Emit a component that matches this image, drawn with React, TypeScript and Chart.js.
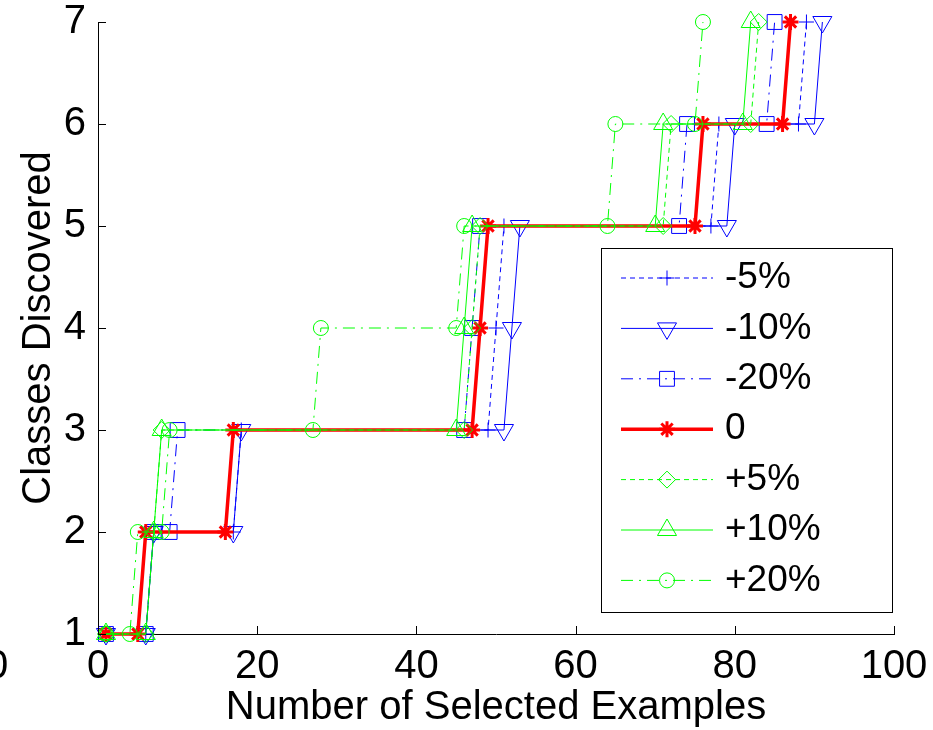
import React, { useEffect, useRef } from 'react';
import { Chart, registerables } from 'chart.js';
import { drawPoint } from 'chart.js/helpers';

Chart.register(...registerables);

const FONT = "'Liberation Sans', Arial, Helvetica, sans-serif";

// Number of selected examples at which each class count was reached, per threshold shift
const minus5X = [1, 6, 7, 17, 18, 49, 50, 51, 77, 78, 88, 89];
const minus5Y = [1, 1, 2, 2, 3, 3, 4, 5, 5, 6, 6, 7];

const minus10X = [1, 6, 7, 17, 18, 51, 52, 53, 79, 80, 90, 91];
const minus10Y = [1, 1, 2, 2, 3, 3, 4, 5, 5, 6, 6, 7];

const minus20X = [1, 6, 7, 9, 10, 46, 47, 48, 73, 74, 84, 85];
const minus20Y = [1, 1, 2, 2, 3, 3, 4, 5, 5, 6, 6, 7];

const zeroX = [1, 5, 6, 16, 17, 47, 48, 49, 75, 76, 86, 87];
const zeroY = [1, 1, 2, 2, 3, 3, 4, 5, 5, 6, 6, 7];

const plus5X = [1, 6, 7, 8, 46, 47, 48, 71, 72, 82, 83];
const plus5Y = [1, 1, 2, 3, 3, 4, 5, 5, 6, 6, 7];

const plus10X = [1, 6, 7, 8, 45, 46, 47, 70, 71, 81, 82];
const plus10Y = [1, 1, 2, 3, 3, 4, 5, 5, 6, 6, 7];

const plus20X = [1, 4, 5, 8, 9, 27, 28, 45, 46, 64, 65, 75, 76];
const plus20Y = [1, 1, 2, 2, 3, 3, 4, 4, 5, 5, 6, 6, 7];

const seriesLabels = ['-5%', '-10%', '-20%', '0', '+5%', '+10%', '+20%'];
const seriesX = [minus5X, minus10X, minus20X, zeroX, plus5X, plus10X, plus20X];
const seriesY = [minus5Y, minus10Y, minus20Y, zeroY, plus5Y, plus10Y, plus20Y];

const xTickValues = [0, 20, 40, 60, 80, 100];
const yTickValues = [1, 2, 3, 4, 5, 6, 7];

const xTitle = 'Number of Selected Examples';
const yTitle = 'Classes Discovered';

const BLUE = '#0000ff';
const GREEN = '#00ff00';
const RED = '#ff0000';
const DASHED = [5, 4];
const DASH_DOT = [12, 6, 2, 6];

// Line and marker look of each series, in the same order as the labels
const seriesStyles = [
  { color: BLUE, width: 1, dash: DASHED, marker: 'cross', radius: 7.5, rotation: 0, markerWidth: 1 },
  { color: BLUE, width: 1, dash: [], marker: 'triangle', radius: 11, rotation: 180, markerWidth: 1 },
  { color: BLUE, width: 1, dash: DASH_DOT, marker: 'rect', radius: 10.5, rotation: 0, markerWidth: 1 },
  { color: RED, width: 3.5, dash: [], marker: 'star', radius: 8, rotation: 0, markerWidth: 3 },
  { color: GREEN, width: 1, dash: DASHED, marker: 'rectRot', radius: 8.5, rotation: 0, markerWidth: 1 },
  { color: GREEN, width: 1, dash: [], marker: 'triangle', radius: 11, rotation: 0, markerWidth: 1 },
  { color: GREEN, width: 1, dash: DASH_DOT, marker: 'circle', radius: 7.5, rotation: 0, markerWidth: 1 },
];

// Legend drawn inside the plot area, lower right
const insetLegend = {
  id: 'insetLegend',
  afterDraw(chart: any) {
    const ctx = chart.ctx as CanvasRenderingContext2D;
    const box = { left: 601, top: 248, right: 892, bottom: 612 };
    ctx.save();
    ctx.fillStyle = '#ffffff';
    ctx.fillRect(box.left, box.top, box.right - box.left, box.bottom - box.top);
    ctx.strokeStyle = '#000000';
    ctx.lineWidth = 1;
    ctx.setLineDash([]);
    ctx.strokeRect(box.left + 0.5, box.top + 0.5, box.right - box.left, box.bottom - box.top);
    chart.data.datasets.forEach((ds: any, i: number) => {
      const y = box.top + 30 + i * 50.4;
      ctx.strokeStyle = ds.borderColor;
      ctx.lineWidth = ds.borderWidth;
      ctx.setLineDash(ds.borderDash || []);
      ctx.beginPath();
      ctx.moveTo(621, y);
      ctx.lineTo(713, y);
      ctx.stroke();
      ctx.setLineDash([]);
      ctx.strokeStyle = ds.pointBorderColor;
      ctx.fillStyle = 'rgba(0,0,0,0)';
      ctx.lineWidth = ds.pointBorderWidth;
      drawPoint(ctx, {
        pointStyle: ds.pointStyle,
        rotation: ds.pointRotation || 0,
        radius: ds.pointRadius,
        borderWidth: ds.pointBorderWidth,
      } as any, 667, y);
      ctx.fillStyle = '#000000';
      ctx.font = `37px ${FONT}`;
      ctx.textAlign = 'left';
      ctx.textBaseline = 'middle';
      ctx.fillText(ds.label, 725, y);
    });
    ctx.restore();
  },
};

// Tick marks pointing into the plot, plus the stray label cut off at the left edge
const inwardTicks = {
  id: 'inwardTicks',
  afterDatasetsDraw(chart: any) {
    const { ctx, chartArea, scales } = chart;
    ctx.save();
    ctx.strokeStyle = '#000000';
    ctx.lineWidth = 1;
    ctx.setLineDash([]);
    scales.x.ticks.forEach((t: any) => {
      const px = Math.round(scales.x.getPixelForValue(t.value)) + 0.5;
      ctx.beginPath();
      ctx.moveTo(px, chartArea.bottom);
      ctx.lineTo(px, chartArea.bottom - 8);
      ctx.stroke();
    });
    scales.y.ticks.forEach((t: any) => {
      const py = Math.round(scales.y.getPixelForValue(t.value)) + 0.5;
      ctx.beginPath();
      ctx.moveTo(chartArea.left, py);
      ctx.lineTo(chartArea.left + 8, py);
      ctx.stroke();
    });
    ctx.fillStyle = '#000000';
    ctx.font = `40px ${FONT}`;
    ctx.textAlign = 'center';
    ctx.textBaseline = 'middle';
    ctx.fillText('0', -3, 667);
    ctx.restore();
  },
};

export default function App() {
  const canvasRef = useRef<HTMLCanvasElement | null>(null);

  useEffect(() => {
    if (!canvasRef.current) return;
    const datasets = seriesLabels.map((label, i) => {
      const s = seriesStyles[i];
      return {
        label,
        data: seriesX[i].map((x, j) => ({ x, y: seriesY[i][j] })),
        borderColor: s.color,
        borderWidth: s.width,
        borderDash: s.dash,
        pointStyle: s.marker,
        pointRadius: s.radius,
        pointRotation: s.rotation,
        pointBorderColor: s.color,
        pointBorderWidth: s.markerWidth,
        pointBackgroundColor: 'rgba(0,0,0,0)',
        showLine: true,
        fill: false,
        tension: 0,
        clip: false as any,
        order: seriesLabels.length - i,
      };
    });

    const chart = new Chart(canvasRef.current, {
      type: 'scatter',
      data: { datasets },
      options: {
        animation: false,
        responsive: false,
        devicePixelRatio: 1,
        events: [],
        layout: { padding: { left: 0, right: 39, top: 22, bottom: 0 } },
        plugins: { legend: { display: false }, tooltip: { enabled: false } },
        scales: {
          x: {
            type: 'linear',
            min: 0,
            max: 100,
            afterFit: (s: any) => {
              s.height = 96;
              s.paddingLeft = 0;
              s.paddingRight = 0;
            },
            afterBuildTicks: (s: any) => { s.ticks = xTickValues.map((v) => ({ value: v })); },
            grid: { display: false, drawTicks: false },
            border: { display: true, color: '#000000', width: 1 },
            ticks: {
              color: '#000000',
              font: { family: FONT, size: 40 },
              padding: 9,
              maxRotation: 0,
              autoSkip: false,
            },
            title: {
              display: true,
              text: xTitle,
              color: '#000000',
              font: { family: FONT, size: 40 },
              padding: { top: 0, bottom: -2 },
            },
          },
          y: {
            type: 'linear',
            min: 1,
            max: 7,
            afterFit: (s: any) => {
              s.width = 98;
              s.paddingTop = 0;
              s.paddingBottom = 0;
            },
            afterBuildTicks: (s: any) => { s.ticks = yTickValues.map((v) => ({ value: v })); },
            grid: { display: false, drawTicks: false },
            border: { display: true, color: '#000000', width: 1 },
            ticks: {
              color: '#000000',
              font: { family: FONT, size: 40 },
              padding: 12,
              autoSkip: false,
            },
            title: {
              display: true,
              text: yTitle,
              color: '#000000',
              font: { family: FONT, size: 40 },
              padding: { top: 15, bottom: 0 },
            },
          },
        },
      },
      plugins: [inwardTicks, insetLegend],
    });
    return () => chart.destroy();
  }, []);

  return (
    <div style={{ position: 'fixed', left: 0, top: 0, width: 933, height: 730, background: '#ffffff' }}>
      <canvas ref={canvasRef} width={933} height={730} style={{ width: 933, height: 730, display: 'block' }} />
    </div>
  );
}
